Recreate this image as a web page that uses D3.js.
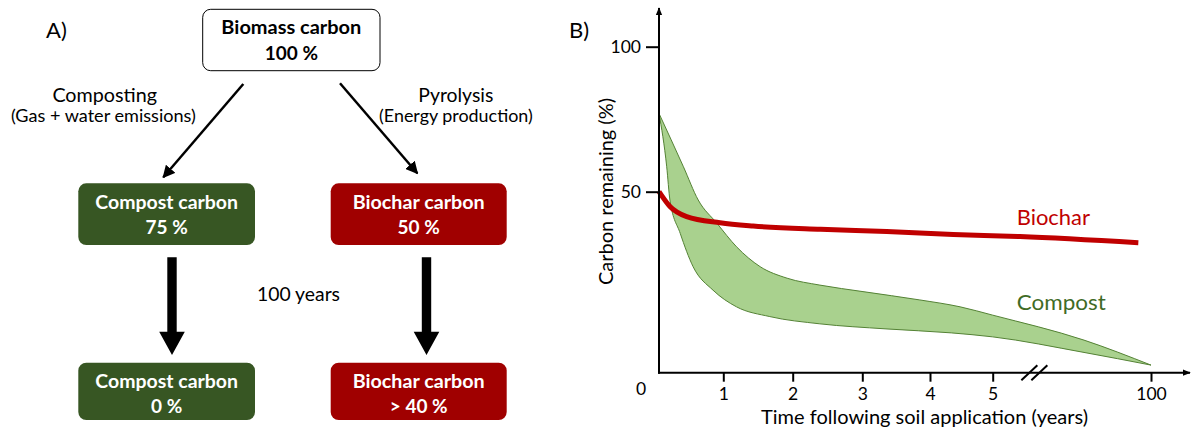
<!DOCTYPE html>
<html>
<head>
<meta charset="utf-8">
<script src="https://cdn.jsdelivr.net/npm/d3@7"></script>
<style>
  html, body { margin: 0; padding: 0; background: #fff; }
  svg { display: block; }
  text { font-family: Lato, "Open Sans", sans-serif; }
</style>
</head>
<body>
<svg id="chart" width="1192" height="432"></svg>
<script>
// ---------- Data ----------
// Panel A (flow diagram)
const boxLabels = ["Biomass carbon", "Compost carbon", "Biochar carbon", "Compost carbon", "Biochar carbon"];
const boxValues = ["100 %", "75 %", "50 %", "0 %", "> 40 %"];
const processLabels = ["Composting", "Pyrolysis"];
const processNotes = ["(Gas + water emissions)", "(Energy production)"];
const durationLabel = "100 years";

// Panel B (curves)
const xTickValues = [1, 2, 3, 4, 5, 100];
const yTickValues = [50, 100];
const xDomainKnots = [0, 1, 2, 3, 4, 5, 100];
const yDomainKnots = [0, 50, 100];
const breakYear = 30;

const biocharYears  = [0, 0.17, 0.43, 0.95, 1.43, 2.4, 3.36, 4.37, 21.4, 92.4];
const biocharValues = [50, 45.9, 43.1, 41.4, 40.5, 39.6, 39.0, 38.2, 37.6, 35.9];

const compostUpperYears  = [0, 0.38, 0.61, 0.90, 1.19, 1.53, 1.92, 2.39, 3.01, 3.85, 4.48, 5.0, 59.8, 100];
const compostUpperValues = [77, 58.6, 47.7, 41.3, 34.8, 29.3, 26.1, 24.2, 22.4, 20.1, 18.2, 15.9, 9.0, 2.1];
const compostLowerYears  = [0, 0.12, 0.17, 0.33, 0.53, 0.84, 1.19, 1.67, 2.39, 3.35, 4.34, 5.0, 59.8, 100];
const compostLowerValues = [77, 58.6, 47.7, 38.5, 29.3, 22.8, 18.2, 15.5, 13.5, 12.1, 11.0, 9.9, 5.6, 2.1];

// ---------- Styles ----------
const GREEN_BOX = "#375623";
const RED_BOX = "#a00000";
const BIOCHAR = "#c00000";
const COMPOST_FILL = "#a9d18e";
const COMPOST_STROKE = "#548235";
const COMPOST_TEXT = "#3f6b26";

const svg = d3.select("#chart");
const defs = svg.append("defs");
defs.append("marker")
  .attr("id", "head").attr("viewBox", "0 0 10 10")
  .attr("refX", 9).attr("refY", 5)
  .attr("markerWidth", 5).attr("markerHeight", 5)
  .attr("markerUnits", "strokeWidth")
  .attr("orient", "auto")
  .append("path").attr("d", "M0,0 L10,5 L0,10 Z").attr("fill", "#000");
defs.append("marker")
  .attr("id", "axhead").attr("viewBox", "0 0 10 10")
  .attr("refX", 9).attr("refY", 5)
  .attr("markerWidth", 4).attr("markerHeight", 4)
  .attr("markerUnits", "strokeWidth")
  .attr("orient", "auto")
  .append("path").attr("d", "M0,1 L10,5 L0,9 Z").attr("fill", "#000");

function addText(g, str, xp, yp, size, width, opts = {}) {
  const t = g.append("text").attr("x", xp).attr("y", yp)
    .attr("text-anchor", opts.anchor || "middle")
    .attr("font-size", size)
    .attr("fill", opts.fill || "#000")
    .text(str);
  if (opts.weight) t.attr("font-weight", opts.weight);
  if (width) t.attr("textLength", width).attr("lengthAdjust", "spacingAndGlyphs");
  return t;
}

// ================= Panel A =================
const A = svg.append("g");
addText(A, "A)", 46, 38, 22, null, { anchor: "start" });

// boxes: [x, y, w, h, fill, text color]
const boxGeom = [
  [202.7, 9.3, 177.3, 61.4, "#fff", "#000"],
  [78.3, 183.3, 176.7, 61.7, GREEN_BOX, "#fff"],
  [330.7, 183.3, 176, 61.7, RED_BOX, "#fff"],
  [78.3, 362.7, 176.7, 57.3, GREEN_BOX, "#fff"],
  [330.7, 362.7, 176, 57.3, RED_BOX, "#fff"]
];
const labelWidths = [140, 142.7, 132, 142.7, 132];
boxGeom.forEach((g, i) => {
  const [bx, by, w, h, fill, tc] = g;
  A.append("rect").attr("x", bx).attr("y", by).attr("width", w).attr("height", h)
    .attr("rx", 8).attr("ry", 8).attr("fill", fill)
    .attr("stroke", i === 0 ? "#000" : "none").attr("stroke-width", 1);
  const cx = bx + w / 2;
  const b1 = i === 0 ? 34 : (i < 3 ? 208.5 : 387.5);
  const b2 = i === 0 ? 60 : (i < 3 ? 234 : 412.5);
  addText(A, boxLabels[i], cx, b1, 19, labelWidths[i], { fill: tc, weight: 700 });
  addText(A, boxValues[i], cx, b2, 19, null, { fill: tc, weight: 700 });
});

// diagonal arrows
A.append("line").attr("x1", 243.3).attr("y1", 84).attr("x2", 163.3).attr("y2", 177.3)
  .attr("stroke", "#000").attr("stroke-width", 2.5).attr("marker-end", "url(#head)");
A.append("line").attr("x1", 340).attr("y1", 83.3).attr("x2", 417.3).attr("y2", 173.3)
  .attr("stroke", "#000").attr("stroke-width", 2.5).attr("marker-end", "url(#head)");

// process labels
addText(A, processLabels[0], 104.7, 102, 19.5, 104.6);
addText(A, processNotes[0], 103.4, 122, 18, 185);
addText(A, processLabels[1], 455.8, 102, 19.5, 75);
addText(A, processNotes[1], 455.9, 122, 18, 153.7);

// big vertical arrows
[172, 426.5].forEach(cx => {
  A.append("path")
    .attr("d", `M${cx - 4.7},257.3 L${cx + 4.7},257.3 L${cx + 4.7},331.7 L${cx + 12.8},331.7 L${cx},355 L${cx - 12.8},331.7 L${cx - 4.7},331.7 Z`)
    .attr("fill", "#000");
});
addText(A, durationLabel, 298.5, 301, 19.5, 83);

// ================= Panel B =================
const B = svg.append("g");
addText(B, "B)", 569, 38, 22, null, { anchor: "start" });

const x = d3.scaleLinear().domain(xDomainKnots).range([659, 723.3, 792.7, 862.3, 930, 992.7, 1151]);
const y = d3.scaleLinear().domain(yDomainKnots).range([372.7, 191.7, 46.7]);
const x0 = x(0), y0 = y(0);

// compost band
const upper = compostUpperYears.map((t, i) => [x(t), y(compostUpperValues[i])]);
const lower = compostLowerYears.map((t, i) => [x(t), y(compostLowerValues[i])]).reverse();
const curve = d3.line().curve(d3.curveMonotoneX);
const bandPath = curve(upper) + curve(lower).replace(/^M/, "L") + "Z";
B.append("path").attr("d", bandPath)
  .attr("fill", COMPOST_FILL).attr("stroke", COMPOST_STROKE).attr("stroke-width", 1)
  .attr("stroke-linejoin", "round");

// biochar line
const bioLine = d3.line().x(d => x(d[0])).y(d => y(d[1])).curve(d3.curveMonotoneX);
B.append("path").attr("d", bioLine(biocharYears.map((t, i) => [t, biocharValues[i]])))
  .attr("fill", "none").attr("stroke", BIOCHAR).attr("stroke-width", 5)
  .attr("stroke-linecap", "butt");

// axes
B.append("line").attr("x1", x0).attr("y1", y0 + 1).attr("x2", x0).attr("y2", 8)
  .attr("stroke", "#000").attr("stroke-width", 2).attr("marker-end", "url(#axhead)");
B.append("line").attr("x1", x0 - 1).attr("y1", y0).attr("x2", 1190).attr("y2", y0)
  .attr("stroke", "#000").attr("stroke-width", 2).attr("marker-end", "url(#axhead)");

// y ticks
const yAxis = d3.axisLeft(y).tickValues(yTickValues).tickSize(13).tickPadding(5).tickFormat(d3.format("d"));
const gy = B.append("g").attr("transform", `translate(${x0},0)`).call(yAxis);
gy.select(".domain").remove();
gy.selectAll(".tick line").attr("stroke", "#000").attr("stroke-width", 2);
gy.selectAll(".tick text").attr("font-size", 17.5).attr("font-family", "Lato, sans-serif").attr("fill", "#000");

// x ticks
const xAxis = d3.axisBottom(x).tickValues(xTickValues).tickSize(9).tickPadding(6).tickFormat(d3.format("d"));
const gx = B.append("g").attr("transform", `translate(0,${y0})`).call(xAxis);
gx.select(".domain").remove();
gx.selectAll(".tick line").attr("stroke", "#000").attr("stroke-width", 2);
gx.selectAll(".tick text").attr("font-size", 17.5).attr("font-family", "Lato, sans-serif").attr("fill", "#000");

// origin label
addText(B, "0", 641, 394.5, 17.5, null);

// axis break marks
const bx = x(breakYear);
[-5, 5].forEach(dx => {
  B.append("line").attr("x1", bx + dx - 8).attr("y1", y0 + 7.5).attr("x2", bx + dx + 8).attr("y2", y0 - 7.5)
    .attr("stroke", "#000").attr("stroke-width", 2);
});

// axis titles
addText(B, "Carbon remaining (%)", 0, 0, 18.5, 187).attr("x", null).attr("y", null)
  .attr("transform", `translate(612.5,191.5) rotate(-90)`);
addText(B, "Time following soil application (years)", 924.5, 424, 19.5, 327);

// series labels
addText(B, "Biochar", 1016.7, 225, 22, 73.3, { anchor: "start", fill: BIOCHAR });
addText(B, "Compost", 1016.7, 310, 22, 89, { anchor: "start", fill: COMPOST_TEXT });
</script>
</body>
</html>
